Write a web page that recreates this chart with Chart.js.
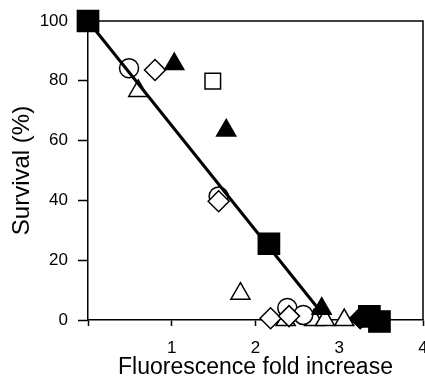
<!DOCTYPE html>
<html>
<head>
<meta charset="utf-8">
<script src="https://cdn.jsdelivr.net/npm/chart.js@4/dist/chart.umd.min.js"></script>
<style>
  html, body { margin: 0; padding: 0; background: #fff; }
  #c { display: block; }
</style>
</head>
<body>
<canvas id="c" width="425" height="383"></canvas>
<script>
// ---- data ----
const xTicks = [0, 1, 2, 3, 4];
const yTicks = [0, 20, 40, 60, 80, 100];

const filledSquareX = [0, 2.16, 3.36, 3.48];
const filledSquareY = [100, 25.5, 1.2, -0.5];

const filledTriangleX = [1.03, 1.65, 2.79];
const filledTriangleY = [85.6, 63.4, 3.8];

const filledDiamondX = [3.25];
const filledDiamondY = [0.6];

const openSquareX = [1.49];
const openSquareY = [79.9];

const openTriangleX = [0.60, 1.82, 2.36, 2.70, 2.83, 3.06];
const openTriangleY = [76.6, 8.8, 0, 0, 0, 0];

const openCircleX = [0.49, 1.56, 2.38, 2.57];
const openCircleY = [84.2, 41.3, 4.0, 1.7];

const openDiamondX = [0.80, 1.56, 2.18, 2.40];
const openDiamondY = [83.6, 39.7, 0.6, 1.3];

const fitLineX = [0, 2.80];
const fitLineY = [100, 2.0];

function pts(xs, ys) { return xs.map((x, i) => ({ x: x, y: ys[i] })); }

const FONT = "'Liberation Sans', Arial, Helvetica, sans-serif";

function markerSet(label, xs, ys, style, radius, filled, order) {
  return {
    label: label,
    data: pts(xs, ys),
    showLine: false,
    pointStyle: style,
    pointRadius: radius,
    pointHoverRadius: radius,
    pointBackgroundColor: filled ? '#000' : '#fff',
    pointBorderColor: '#000',
    pointBorderWidth: 1.5,
    backgroundColor: filled ? '#000' : '#fff',
    borderColor: '#000',
    clip: false,
    order: order
  };
}

const boxPlugin = {
  id: 'box',
  afterDatasetsDraw(chart) {
    const a = chart.chartArea, ctx = chart.ctx;
    ctx.save();
    ctx.strokeStyle = '#000';
    ctx.lineWidth = 1.5;
    ctx.beginPath();
    ctx.moveTo(a.left, a.top);
    ctx.lineTo(a.right, a.top);
    ctx.lineTo(a.right, a.bottom);
    ctx.stroke();
    ctx.restore();
  }
};

new Chart(document.getElementById('c'), {
  type: 'scatter',
  data: {
    datasets: [
      markerSet('open triangle', openTriangleX, openTriangleY, 'triangle', 11, false, 8),
      markerSet('open circle', openCircleX, openCircleY, 'circle', 9.5, false, 7),
      markerSet('open diamond', openDiamondX, openDiamondY, 'rectRot', 10.5, false, 6),
      markerSet('open square', openSquareX, openSquareY, 'rect', 11, false, 5),
      markerSet('filled triangle', filledTriangleX, filledTriangleY, 'triangle', 11, true, 4),
      markerSet('filled diamond', filledDiamondX, filledDiamondY, 'rectRot', 10.5, true, 3),
      markerSet('filled square', filledSquareX, filledSquareY, 'rect', 15, true, 2),
      {
        label: 'fit',
        data: pts(fitLineX, fitLineY),
        showLine: true,
        borderColor: '#000',
        borderWidth: 3,
        pointRadius: 0,
        pointHoverRadius: 0,
        fill: false,
        tension: 0,
        clip: false,
        order: 1
      }
    ]
  },
  options: {
    responsive: false,
    animation: false,
    devicePixelRatio: 1,
    events: [],
    layout: { autoPadding: false, padding: { top: 21, right: 2, left: 0, bottom: 0 } },
    plugins: { legend: { display: false }, tooltip: { enabled: false } },
    scales: {
      x: {
        type: 'linear',
        min: xTicks[0],
        max: xTicks[xTicks.length - 1],
        afterBuildTicks: (s) => { s.ticks = xTicks.map(v => ({ value: v })); },
        afterFit: (s) => { s.height = 63; s.paddingLeft = 0; s.paddingRight = 0; },
        border: { display: true, color: '#000', width: 1.5 },
        grid: { drawOnChartArea: false, drawTicks: true, tickLength: 6, tickColor: '#000', tickWidth: 1.5 },
        ticks: {
          color: '#000',
          font: { family: FONT, size: 17 },
          padding: 12,
          maxRotation: 0,
          callback: (v) => (v === 0 ? '' : String(v))
        },
        title: {
          display: true,
          text: 'Fluorescence fold increase',
          color: '#000',
          font: { family: FONT, size: 23 },
          padding: { top: 0, bottom: 2 }
        }
      },
      y: {
        type: 'linear',
        min: yTicks[0],
        max: yTicks[yTicks.length - 1],
        afterBuildTicks: (s) => { s.ticks = yTicks.map(v => ({ value: v })); },
        afterFit: (s) => { s.width = 88; s.paddingTop = 0; s.paddingBottom = 0; },
        border: { display: true, color: '#000', width: 1.5 },
        grid: { drawOnChartArea: false, drawTicks: true, tickLength: 10, tickColor: '#000', tickWidth: 1.5 },
        ticks: {
          color: '#000',
          font: { family: FONT, size: 17 },
          padding: 10
        },
        title: {
          display: true,
          text: 'Survival (%)',
          color: '#000',
          font: { family: FONT, size: 24 },
          padding: { top: 8, bottom: 0 }
        }
      }
    }
  },
  plugins: [boxPlugin]
});
</script>
</body>
</html>
